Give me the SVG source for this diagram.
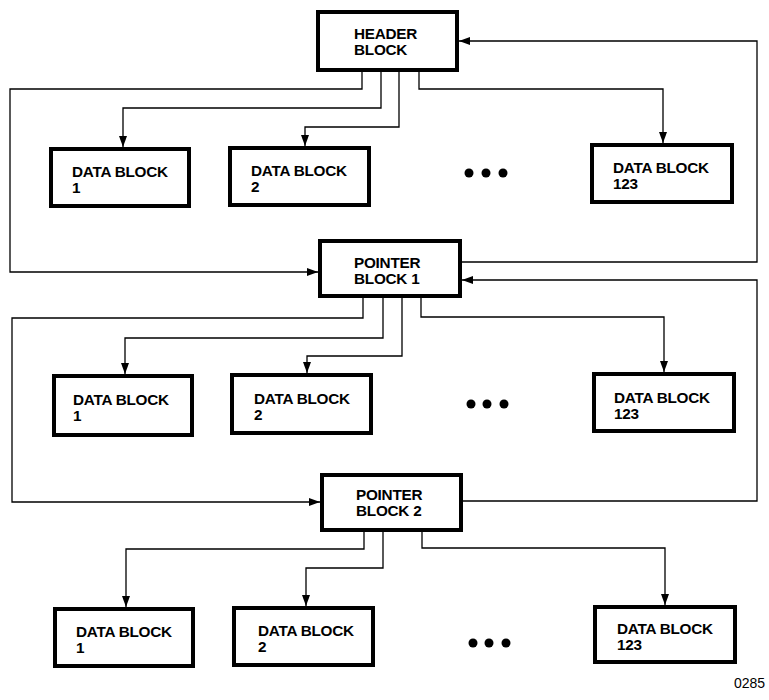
<svg xmlns="http://www.w3.org/2000/svg" width="769" height="700" viewBox="0 0 769 700">
<style>
.box{fill:#fff;stroke:#000;stroke-width:4}
.lbl{font-family:"Liberation Sans",Arial,Helvetica,sans-serif;font-weight:bold;font-size:15.3px;letter-spacing:-0.25px;fill:#000}
.con{fill:none;stroke:#000;stroke-width:1.3}
.dot{fill:#000}
.num{font-family:"Liberation Sans",Arial,Helvetica,sans-serif;font-size:14px;fill:#000}
</style>
<defs>
<marker id="ah" markerUnits="userSpaceOnUse" markerWidth="12" markerHeight="9" refX="11" refY="4" orient="auto">
<path d="M0,0 L11,4 L0,8 z" fill="#000"/>
</marker>
</defs>
<rect width="769" height="700" fill="#fff"/>
<g id="connectors">
<path class="con" marker-end="url(#ah)" d="M362,72 V89 H10 V272 H318"/>
<path class="con" marker-end="url(#ah)" d="M381,72 V108 H123 V147"/>
<path class="con" marker-end="url(#ah)" d="M399,72 V127 H305 V146"/>
<path class="con" marker-end="url(#ah)" d="M419,72 V89 H663 V143"/>
<path class="con" marker-end="url(#ah)" d="M462,262 H757 V41 H459"/>
<path class="con" marker-end="url(#ah)" d="M363,298 V318 H12 V502 H320"/>
<path class="con" marker-end="url(#ah)" d="M383,298 V338 H125 V374"/>
<path class="con" marker-end="url(#ah)" d="M402,298 V356 H307 V373"/>
<path class="con" marker-end="url(#ah)" d="M421,298 V317 H664 V372"/>
<path class="con" marker-end="url(#ah)" d="M463,501 H757 V280 H462"/>
<path class="con" marker-end="url(#ah)" d="M364,532 V549 H126 V607"/>
<path class="con" marker-end="url(#ah)" d="M383,532 V568 H306 V606"/>
<path class="con" marker-end="url(#ah)" d="M422,532 V548 H665 V605"/>
</g>
<g id="header">
<rect class="box" x="318" y="12" width="139" height="58"/>
<text class="lbl" x="354" y="39">HEADER</text>
<text class="lbl" x="354" y="55">BLOCK</text>
</g>
<g id="pointer1">
<rect class="box" x="320" y="241" width="140" height="55"/>
<text class="lbl" x="354" y="268">POINTER</text>
<text class="lbl" x="354" y="284">BLOCK 1</text>
</g>
<g id="pointer2">
<rect class="box" x="322" y="475" width="139" height="55"/>
<text class="lbl" x="356" y="500">POINTER</text>
<text class="lbl" x="356" y="516">BLOCK 2</text>
</g>
<g id="r1db1">
<rect class="box" x="51" y="149" width="138" height="57"/>
<text class="lbl" x="72" y="177">DATA BLOCK</text>
<text class="lbl" x="72" y="193">1</text>
</g>
<g id="r1db2">
<rect class="box" x="230" y="148" width="139" height="57"/>
<text class="lbl" x="251" y="176">DATA BLOCK</text>
<text class="lbl" x="251" y="192">2</text>
</g>
<g id="r1db123">
<rect class="box" x="592" y="145" width="140" height="57"/>
<text class="lbl" x="613" y="173">DATA BLOCK</text>
<text class="lbl" x="613" y="189">123</text>
</g>
<g id="r1dots">
<circle class="dot" cx="469" cy="173" r="4.5"/>
<circle class="dot" cx="486" cy="173" r="4.5"/>
<circle class="dot" cx="503" cy="173" r="4.5"/>
</g>
<g id="r2db1">
<rect class="box" x="54" y="376" width="138" height="59"/>
<text class="lbl" x="73" y="405">DATA BLOCK</text>
<text class="lbl" x="73" y="421">1</text>
</g>
<g id="r2db2">
<rect class="box" x="232" y="375" width="139" height="58"/>
<text class="lbl" x="254" y="404">DATA BLOCK</text>
<text class="lbl" x="254" y="420">2</text>
</g>
<g id="r2db123">
<rect class="box" x="594" y="374" width="140" height="57"/>
<text class="lbl" x="614" y="403">DATA BLOCK</text>
<text class="lbl" x="614" y="419">123</text>
</g>
<g id="r2dots">
<circle class="dot" cx="471" cy="404" r="4.5"/>
<circle class="dot" cx="487" cy="404" r="4.5"/>
<circle class="dot" cx="504" cy="404" r="4.5"/>
</g>
<g id="r3db1">
<rect class="box" x="55" y="609" width="138" height="57"/>
<text class="lbl" x="76" y="637">DATA BLOCK</text>
<text class="lbl" x="76" y="653">1</text>
</g>
<g id="r3db2">
<rect class="box" x="234" y="608" width="139" height="57"/>
<text class="lbl" x="258" y="636">DATA BLOCK</text>
<text class="lbl" x="258" y="652">2</text>
</g>
<g id="r3db123">
<rect class="box" x="595" y="607" width="140" height="55"/>
<text class="lbl" x="617" y="634">DATA BLOCK</text>
<text class="lbl" x="617" y="650">123</text>
</g>
<g id="r3dots">
<circle class="dot" cx="473" cy="643" r="4.5"/>
<circle class="dot" cx="489" cy="643" r="4.5"/>
<circle class="dot" cx="506" cy="643" r="4.5"/>
</g>
<text class="num" x="734" y="688">0285</text>
</svg>
